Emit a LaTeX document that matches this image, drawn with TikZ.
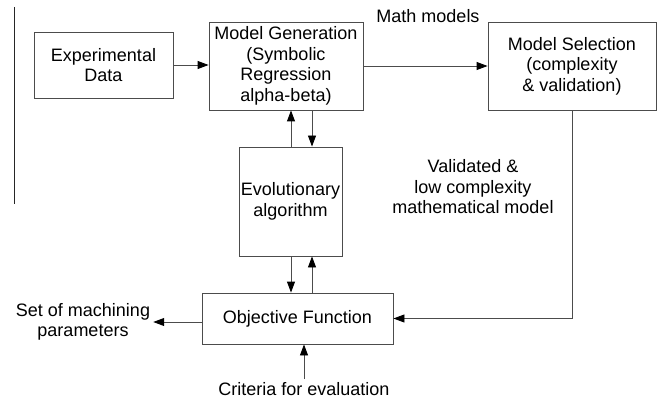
\documentclass[tikz,border=0pt]{standalone}
\usepackage{fontspec}
\setmainfont{Liberation Sans}
\usepackage{tikz}
\usetikzlibrary{arrows.meta,positioning,calc}

\begin{document}
\begin{tikzpicture}[x=1pt, y=-1pt,
  blk/.style={draw=black!70, line width=0.9pt, align=center, inner sep=0pt, font=\fontsize{18}{20.5}\selectfont},
  lab/.style={align=center, inner sep=3pt, font=\fontsize{18}{20.5}\selectfont},
  arr/.style={draw=black!70, line width=0.9pt, -{Triangle[length=11pt,width=8pt,color=black]}}
]
\useasboundingbox (0,0) rectangle (661,401);
\draw[black!85, line width=1pt] (14,7) -- (14,204);

\node[blk, minimum width=139pt, minimum height=66pt] (exp) at (103.5,65) {Experimental\\Data};
\node[blk, minimum width=154pt, minimum height=88pt] (gen) at (286,66) {Model Generation\\(Symbolic\\Regression\\alpha-beta)};
\node[blk, minimum width=168pt, minimum height=88pt] (sel) at (572,66) {Model Selection\\(complexity\\\& validation)};
\node[blk, minimum width=103pt, minimum height=109pt] (evo) at (290.5,201.5) {Evolutionary\\algorithm};
\node[blk, minimum width=191pt, minimum height=51pt] (obj) at (297.5,318.5) {Objective Function};

\node[lab] (math) at (428,16) {Math models};
\node[lab] (val) at (473,187) {Validated \&\\low complexity\\mathematical model};
\node[lab] (par) at (83,322) {Set of machining\\parameters};
\node[lab] (crit) at (304,389) {Criteria for evaluation};

\coordinate (xl) at (291,0);
\coordinate (xr) at (312,0);

\draw[arr] (exp.east) -- (exp.east -| gen.west);
\draw[arr] (gen.east) -- (sel.west);
\draw[arr] (xl |- evo.north) -- (xl |- gen.south);
\draw[arr] (xr |- gen.south) -- (xr |- evo.north);
\draw[arr] (xl |- evo.south) -- (xl |- obj.north);
\draw[arr] (xr |- obj.north) -- (xr |- evo.south);
\draw[arr] (sel.south) |- (obj.east);
\draw[arr] (obj.west |- par.east) -- (par.east);
\draw[arr] (crit.north) -- (crit.north |- obj.south);
\end{tikzpicture}
\end{document}
